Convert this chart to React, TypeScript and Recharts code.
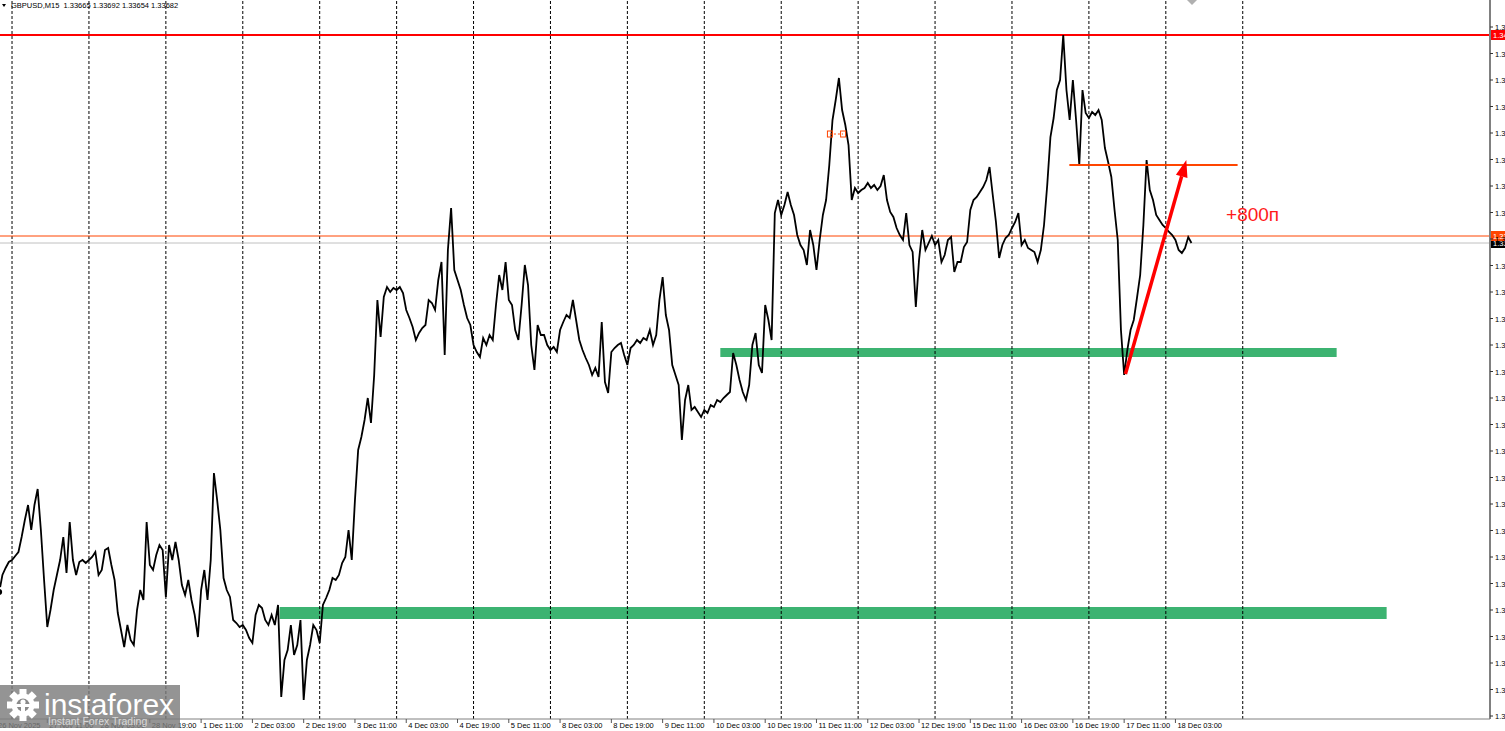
import React from 'react';
import {
  ComposedChart,
  Line,
  XAxis,
  YAxis,
  ReferenceLine,
  ReferenceArea,
  ReferenceDot,
} from 'recharts';

const FONT = '"Liberation Sans", Arial, sans-serif';

// Hourly closes of GBPUSD from 26 Nov 19:00 (trading-hour index 0) onward
const closes: number[] = [
  1.3224, 1.32232, 1.323, 1.32328, 1.32352, 1.3236, 1.32376, 1.32392, 1.32452, 1.3252,
  1.3258, 1.3248, 1.3258, 1.32644, 1.3248, 1.3228, 1.32092, 1.3216, 1.3224, 1.323,
  1.3236, 1.32452, 1.32308, 1.32512, 1.3236, 1.323, 1.32352, 1.3236, 1.32348, 1.3236,
  1.32372, 1.32392, 1.323, 1.3232, 1.324, 1.32408, 1.3234, 1.3228, 1.32148, 1.3208,
  1.32012, 1.321, 1.3204, 1.3202, 1.3216, 1.3224, 1.322, 1.32512, 1.3234, 1.3232,
  1.3238, 1.3242, 1.324, 1.32212, 1.3242, 1.3236, 1.32432, 1.3236, 1.3226, 1.3222,
  1.3228, 1.322, 1.3214, 1.32052, 1.3224, 1.3232, 1.322, 1.3236, 1.32708, 1.326,
  1.3248, 1.32288, 1.3224, 1.32212, 1.3212, 1.32108, 1.32092, 1.321, 1.3208, 1.32048,
  1.32028, 1.3214, 1.3218, 1.32168, 1.3212, 1.321, 1.3214, 1.321, 1.3218, 1.31812,
  1.3196, 1.32, 1.321, 1.3198, 1.3202, 1.3212, 1.318, 1.3196, 1.3202, 1.321,
  1.3208, 1.32028, 1.3218, 1.32208, 1.3224, 1.32288, 1.3228, 1.323, 1.32348, 1.32372,
  1.3248, 1.3236, 1.326, 1.328, 1.32852, 1.3292, 1.33008, 1.32908, 1.331, 1.334,
  1.33252, 1.33412, 1.33452, 1.33432, 1.33448, 1.3344, 1.33452, 1.33428, 1.3336, 1.33328,
  1.33292, 1.3324, 1.33268, 1.33288, 1.333, 1.334, 1.33388, 1.3336, 1.3348, 1.33552,
  1.3318, 1.336, 1.33768, 1.3352, 1.3348, 1.3344, 1.3338, 1.33328, 1.333, 1.3322,
  1.33192, 1.33172, 1.33248, 1.3322, 1.3326, 1.3324, 1.3338, 1.335, 1.3344, 1.33552,
  1.334, 1.3338, 1.3328, 1.3324, 1.3338, 1.3354, 1.3346, 1.3322, 1.3312, 1.333,
  1.3326, 1.3326, 1.3322, 1.332, 1.33212, 1.33192, 1.3328, 1.33312, 1.3334, 1.33328,
  1.334, 1.3332, 1.3324, 1.332, 1.33168, 1.3314, 1.331, 1.33128, 1.33092, 1.33312,
  1.33072, 1.33028, 1.33192, 1.33208, 1.3322, 1.33228, 1.3318, 1.3314, 1.33208, 1.3322,
  1.3324, 1.33228, 1.33248, 1.3324, 1.3328, 1.3322, 1.3326, 1.334, 1.33492, 1.3334,
  1.3328, 1.3314, 1.331, 1.3306, 1.3284, 1.33, 1.3306, 1.3296, 1.32972, 1.32952,
  1.32932, 1.3296, 1.32948, 1.3298, 1.32972, 1.33, 1.32992, 1.33008, 1.3302, 1.33032,
  1.33188, 1.3314, 1.3308, 1.33032, 1.33, 1.3306, 1.3322, 1.33268, 1.3314, 1.33108,
  1.3338, 1.3332, 1.3324, 1.33748, 1.338, 1.3374, 1.3378, 1.33832, 1.3378, 1.3374,
  1.3366, 1.3362, 1.336, 1.3354, 1.3368, 1.3362, 1.3352, 1.3364, 1.3374, 1.338,
  1.3394, 1.3412, 1.342, 1.34288, 1.3416, 1.341, 1.3402, 1.338, 1.33848, 1.33828,
  1.3384, 1.33848, 1.33868, 1.33848, 1.3386, 1.3384, 1.33856, 1.339, 1.338, 1.33752,
  1.33732, 1.33688, 1.3366, 1.3364, 1.33748, 1.3362, 1.33592, 1.33372, 1.3356, 1.3368,
  1.336, 1.33628, 1.33656, 1.3362, 1.3364, 1.33552, 1.3358, 1.3364, 1.33652, 1.33512,
  1.33552, 1.33552, 1.33612, 1.33632, 1.3376, 1.338, 1.33812, 1.33832, 1.33852, 1.3388,
  1.33932, 1.3382, 1.33712, 1.33568, 1.3362, 1.33648, 1.3366, 1.33688, 1.33712, 1.33748,
  1.3362, 1.3364, 1.33608, 1.336, 1.33592, 1.33552, 1.336, 1.337, 1.3386, 1.34052,
  1.34128, 1.3424, 1.3428, 1.3446, 1.3424, 1.3412, 1.3428, 1.3412, 1.3394, 1.3424,
  1.34148, 1.34128, 1.34152, 1.3414, 1.3416, 1.3412, 1.34008, 1.33952, 1.33892, 1.3376,
  1.3364, 1.3328, 1.331, 1.332, 1.3328, 1.3332, 1.33408, 1.335, 1.337, 1.3396,
  1.3384, 1.338, 1.3374, 1.3372, 1.337, 1.33688, 1.33672, 1.3366, 1.3364, 1.336,
  1.33588, 1.33608, 1.33652, 1.33628,
];

// Time axis (trading hours since 26 Nov 19:00)
const xTickHours = [0, 16, 32, 48, 64, 80, 96, 112, 128, 144, 160, 176, 192, 208, 224, 240, 256, 272, 288, 304, 320, 336, 352, 368];
const xTickLabels = [
  '26 Nov 2025', '27 Nov 11:00', '28 Nov 03:00', '28 Nov 19:00', '1 Dec 11:00', '2 Dec 03:00',
  '2 Dec 19:00', '3 Dec 11:00', '4 Dec 03:00', '4 Dec 19:00', '5 Dec 11:00', '8 Dec 03:00',
  '8 Dec 19:00', '9 Dec 11:00', '10 Dec 03:00', '10 Dec 19:00', '11 Dec 11:00', '12 Dec 03:00',
  '12 Dec 19:00', '15 Dec 11:00', '16 Dec 03:00', '16 Dec 19:00', '17 Dec 11:00', '18 Dec 03:00',
];
const dayStartHours = [5, 29, 53, 77, 101, 125, 149, 173, 197, 221, 245, 269, 293, 317, 341, 365, 389];
const xDomain: [number, number] = [0, 466.15];

// Price axis
const priceTicks = [
  1.34492, 1.34386, 1.3428, 1.34174, 1.34068, 1.33962, 1.33856, 1.3375, 1.33644, 1.33538,
  1.33432, 1.33326, 1.3322, 1.33114, 1.33008, 1.32902, 1.32796, 1.3269, 1.32584, 1.32478,
  1.32372, 1.32266, 1.3216, 1.32054, 1.31948, 1.31842, 1.31736,
];
const yDomain: [number, number] = [1.31724, 1.346];

// Levels and drawings
const resistanceLevel = 1.3446;
const orangeLevel = 1.33656;
const bidLevel = 1.33628;
const targetLine = { from: 334.9, to: 387.4, price: 1.3394 };
const upperZone = { from: 226.0, to: 418.3, top: 1.33208, bottom: 1.33172 };
const lowerZone = { from: 88.5, to: 433.9, top: 1.32172, bottom: 1.32124 };
const arrowMove = { fromH: 352.4, fromP: 1.33104, toH: 371.4, toP: 1.3396 };
const note = { h: 383.8, p: 1.33716, text: '+800п' };
const tradeMarks = [
  { h: 260.2, p: 1.34064 },
  { h: 264.3, p: 1.34064 },
];

const header = 'GBPUSD,M15  1.33665 1.33692 1.33654 1.33682';

const data = closes.map((p, i) => ({ h: i, p }));

const XTick = (props: any) => {
  const { x, payload } = props;
  const idx = xTickHours.indexOf(payload.value);
  return (
    <text x={x + 2} y={728} fontSize={7.5} fontFamily={FONT} fill="#000" textAnchor="start">
      {idx >= 0 ? xTickLabels[idx] : ''}
    </text>
  );
};

const YTick = (props: any) => {
  const { x, y, payload } = props;
  return (
    <text x={x} y={y + 3} fontSize={7.5} fontFamily={FONT} fill="#000" textAnchor="start">
      {Number(payload.value).toFixed(5)}
    </text>
  );
};

const priceTag = (bg: string, value: number) => (props: any) => {
  const vb = props.viewBox || {};
  const x = (vb.x ?? 0) + (vb.width ?? 0) + 1;
  const y = vb.y ?? 0;
  return (
    <g>
      <rect x={x} y={y - 5} width={20} height={10} fill={bg} />
      <text x={x + 2} y={y + 3} fontSize={7.5} fontFamily={FONT} fill="#fff">
        {value.toFixed(5)}
      </text>
    </g>
  );
};

const ArrowShape = (props: any) => {
  const { x1, y1, x2, y2 } = props;
  const dx = x2 - x1;
  const dy = y2 - y1;
  const len = Math.hypot(dx, dy) || 1;
  const ux = dx / len;
  const uy = dy / len;
  const headLen = 17;
  const headW = 6;
  const bx = x2 - ux * headLen;
  const by = y2 - uy * headLen;
  const px = -uy;
  const py = ux;
  return (
    <g>
      <line x1={x1} y1={y1} x2={bx} y2={by} stroke="#ff0000" strokeWidth={3.5} />
      <polygon
        points={`${x2},${y2} ${bx + px * headW},${by + py * headW} ${bx - px * headW},${by - py * headW}`}
        fill="#ff0000"
      />
    </g>
  );
};

const NoteShape = (props: any) => (
  <text x={props.cx} y={props.cy} fontSize={19} fontFamily={FONT} fill="#ff1a1a" textAnchor="start">
    {note.text}
  </text>
);

const TradeMarkShape = (props: any) => (
  <rect x={props.cx - 2.5} y={props.cy - 3} width={5} height={6} fill="none" stroke="#ff4500" strokeWidth={1} />
);

const Gear = ({ cx, cy }: { cx: number; cy: number }) => {
  const teeth = [0, 45, 90, 135, 180, 225, 270, 315];
  return (
    <g>
      {teeth.map((a) => (
        <rect
          key={a}
          x={cx - 3.5}
          y={cy - 16}
          width={7}
          height={8}
          fill="#fff"
          transform={`rotate(${a} ${cx} ${cy})`}
        />
      ))}
      <circle cx={cx} cy={cy} r={11.5} fill="#fff" />
      <circle cx={cx} cy={cy} r={6.5} fill="#8a8a8a" />
      <circle cx={cx} cy={cy - 3} r={2.6} fill="#fff" />
      <rect x={cx - 2} y={cy} width={4} height={12} fill="#fff" />
      <rect x={cx - 7} y={cy - 1} width={14} height={3} fill="#fff" />
    </g>
  );
};

export default function App() {
  return (
    <div
      style={{
        position: 'absolute',
        left: 0,
        top: 0,
        width: 1505,
        height: 731,
        overflow: 'hidden',
        background: '#fff',
      }}
    >
      <div style={{ position: 'absolute', left: -4, top: 0 }}>
        <ComposedChart
          width={1509}
          height={731}
          data={data}
          margin={{ top: 0, right: 0, bottom: 0, left: 0 }}
        >
          <XAxis
            type="number"
            dataKey="h"
            domain={xDomain}
            allowDataOverflow
            ticks={xTickHours}
            interval={0}
            height={12}
            tickSize={4}
            tickLine={{ stroke: '#555' }}
            axisLine={{ stroke: '#808080', strokeWidth: 1 }}
            tick={<XTick />}
          />
          <YAxis
            orientation="right"
            type="number"
            domain={yDomain}
            allowDataOverflow
            ticks={priceTicks}
            interval={0}
            width={15}
            tickSize={3}
            tickMargin={2}
            tickLine={{ stroke: '#333' }}
            axisLine={{ stroke: '#808080', strokeWidth: 2 }}
            tick={<YTick />}
          />
          {dayStartHours.map((h) => (
            <ReferenceLine key={h} x={h} stroke="#000" strokeWidth={1} strokeDasharray="3 2" />
          ))}
          <ReferenceArea
            x1={lowerZone.from}
            x2={lowerZone.to}
            y1={lowerZone.bottom}
            y2={lowerZone.top}
            fill="#3cb371"
            fillOpacity={1}
            stroke="none"
          />
          <ReferenceArea
            x1={upperZone.from}
            x2={upperZone.to}
            y1={upperZone.bottom}
            y2={upperZone.top}
            fill="#3cb371"
            fillOpacity={1}
            stroke="none"
          />
          <ReferenceLine y={bidLevel} stroke="#c0c0c0" strokeWidth={1} label={priceTag('#000', bidLevel)} />
          <ReferenceLine y={orangeLevel} stroke="#ff4500" strokeWidth={1} label={priceTag('#ff4500', orangeLevel)} />
          <ReferenceLine y={resistanceLevel} stroke="#ff0000" strokeWidth={2} label={priceTag('#ff0000', resistanceLevel)} />
          <Line
            type="linear"
            dataKey="p"
            stroke="#000"
            strokeWidth={1.8}
            strokeLinejoin="miter"
            dot={false}
            isAnimationActive={false}
          />
          <ReferenceLine
            segment={[
              { x: targetLine.from, y: targetLine.price },
              { x: targetLine.to, y: targetLine.price },
            ]}
            stroke="#ff4500"
            strokeWidth={2}
          />
          <ReferenceLine
            segment={[
              { x: tradeMarks[0].h, y: tradeMarks[0].p },
              { x: tradeMarks[1].h, y: tradeMarks[1].p },
            ]}
            stroke="#ff4500"
            strokeWidth={1}
            strokeDasharray="2 2"
          />
          {tradeMarks.map((m, i) => (
            <ReferenceDot key={i} x={m.h} y={m.p} r={3} shape={TradeMarkShape} />
          ))}
          <ReferenceLine
            segment={[
              { x: arrowMove.fromH, y: arrowMove.fromP },
              { x: arrowMove.toH, y: arrowMove.toP },
            ]}
            shape={ArrowShape}
          />
          <ReferenceDot x={note.h} y={note.p} r={1} shape={NoteShape} />
        </ComposedChart>
      </div>
      <svg
        width={1505}
        height={731}
        style={{ position: 'absolute', left: 0, top: 0, pointerEvents: 'none' }}
      >
        <polygon points="2,4 6,4 4,7" fill="#000" />
        <text x={11} y={8} fontSize={7.5} fontFamily={FONT} fill="#000" style={{ whiteSpace: 'pre' }}>
          {header}
        </text>
        <polygon points="1187,0 1197,0 1192,5" fill="#b0b0b0" />
        <rect x={0} y={685} width={180} height={43} fill="#7d7d7d" fillOpacity={0.82} />
        <Gear cx={23} cy={705} />
        <text x={44} y={715} fontSize={30} fontFamily={FONT} fill="#fff">
          instaforex
        </text>
        <text x={48} y={725} fontSize={10.5} fontFamily={FONT} fill="#e6e6e6" fillOpacity={0.85}>
          Instant Forex Trading
        </text>
      </svg>
    </div>
  );
}
